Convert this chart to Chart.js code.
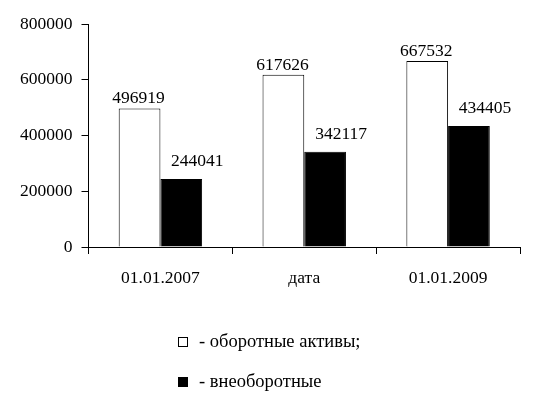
<!DOCTYPE html>
<html>
<head>
<meta charset="utf-8">
<script src="https://cdn.jsdelivr.net/npm/chart.js@4"></script>
<style>
  html, body { margin: 0; padding: 0; background: #fff; }
  #wrap { width: 545px; height: 396px; }
</style>
</head>
<body>
<div id="wrap"><canvas id="chart" width="545" height="396"></canvas></div>
<script>
const categories = ["01.01.2007", "дата", "01.01.2009"];
const seriesNames = ["- оборотные активы;", "- внеоборотные"];
const currentAssets = [496919, 617626, 667532];
const nonCurrentAssets = [244041, 342117, 434405];
const yTicks = [0, 200000, 400000, 600000, 800000];

const FONT = "'Liberation Serif', 'Times New Roman', serif";
const FONT_SIZE = 17.5;

// value labels above the bars
const barLabels = {
  id: "barLabels",
  afterDatasetsDraw(chart) {
    const ctx = chart.ctx;
    ctx.save();
    ctx.font = FONT_SIZE + "px " + FONT;
    ctx.fillStyle = "#000";
    ctx.textAlign = "center";
    ctx.textBaseline = "alphabetic";
    chart.data.datasets.forEach((ds, i) => {
      const meta = chart.getDatasetMeta(i);
      const shift = i === 0 ? { dx: -1, dy: 5 } : { dx: 16, dy: 13 };
      meta.data.forEach((bar, j) => {
        ctx.fillText(String(ds.data[j]), bar.x + shift.dx, bar.y - shift.dy);
      });
    });
    ctx.restore();
  },
};

// legend stacked vertically under the chart
const stackedLegend = {
  id: "stackedLegend",
  afterDraw(chart) {
    const ctx = chart.ctx;
    ctx.save();
    ctx.font = "18.5px " + FONT;
    ctx.textBaseline = "middle";
    ctx.textAlign = "left";
    const rows = [342, 382];
    chart.data.datasets.forEach((ds, i) => {
      const y = rows[i];
      ctx.fillStyle = ds.backgroundColor;
      ctx.fillRect(178.5, y - 4.5, 9, 9);
      ctx.strokeStyle = "#000";
      ctx.lineWidth = 1;
      ctx.strokeRect(178.5, y - 4.5, 9, 9);
      ctx.fillStyle = "#000";
      ctx.fillText(ds.label, 199, y);
    });
    ctx.restore();
  },
};

new Chart(document.getElementById("chart"), {
  type: "bar",
  data: {
    labels: categories,
    datasets: [
      {
        label: seriesNames[0],
        data: currentAssets,
        backgroundColor: "#ffffff",
        borderColor: "#000000",
        borderWidth: 1,
      },
      {
        label: seriesNames[1],
        data: nonCurrentAssets,
        backgroundColor: "#000000",
        borderColor: "#000000",
        borderWidth: 1,
      },
    ],
  },
  options: {
    responsive: false,
    animation: false,
    devicePixelRatio: 1,
    layout: { padding: { left: 11, right: 25, top: 24, bottom: 93 } },
    datasets: {
      bar: { categoryPercentage: 0.58, barPercentage: 1 },
    },
    plugins: {
      legend: { display: false },
      tooltip: { enabled: false },
    },
    scales: {
      x: {
        grid: { drawOnChartArea: false, tickLength: 7, color: "#000", offset: true },
        border: { color: "#000", width: 1 },
        ticks: { color: "#000", font: { family: FONT, size: FONT_SIZE }, padding: 14 },
      },
      y: {
        min: 0,
        max: 800000,
        afterBuildTicks: (axis) => {
          axis.ticks = yTicks.map((v) => ({ value: v }));
        },
        grid: { drawOnChartArea: false, tickLength: 7, color: "#000" },
        border: { color: "#000", width: 1 },
        ticks: {
          color: "#000",
          font: { family: FONT, size: FONT_SIZE },
          padding: 9,
          callback: (v) => String(v),
        },
      },
    },
  },
  plugins: [barLabels, stackedLegend],
});
</script>
</body>
</html>
